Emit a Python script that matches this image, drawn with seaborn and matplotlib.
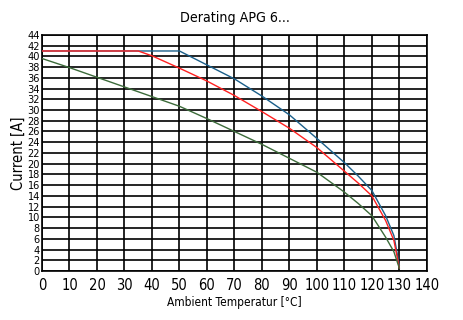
import matplotlib
matplotlib.use("Agg")
import matplotlib.pyplot as plt
import seaborn as sns
import pandas as pd

# Data
blue_x = [0, 50, 60, 70, 80, 90, 100, 110, 115, 120, 125, 128, 130]
blue_y = [41, 41, 38.4, 35.8, 32.6, 29.1, 24.7, 20.2, 17.7, 15.0, 10.3, 6.6, 1.0]
red_x = [0, 35, 40, 50, 60, 70, 80, 90, 100, 110, 115, 120, 125, 128, 130]
red_y = [41, 41, 40.1, 37.8, 35.4, 32.7, 29.7, 26.6, 23.0, 18.6, 16.4, 14.0, 9.4, 5.7, 0.5]
green_x = [0, 10, 20, 30, 40, 50, 60, 70, 80, 90, 100, 110, 115, 120, 125, 128, 130]
green_y = [39.6, 37.9, 36.1, 34.3, 32.5, 30.7, 28.4, 26.0, 23.6, 21.0, 18.4, 14.7, 12.6, 10.3, 6.3, 3.6, 0.5]

x_ticks = list(range(0, 141, 10))
y_ticks = list(range(0, 45, 2))

sns.set_style("white")
plt.rcParams['font.family'] = ['DejaVu Sans']
plt.rcParams['font.stretch'] = 'condensed'
plt.rcParams['text.color'] = 'black'
plt.rcParams['xtick.color'] = 'black'
plt.rcParams['ytick.color'] = 'black'
plt.rcParams['axes.labelcolor'] = 'black'

fig = plt.figure(figsize=(4.63, 3.2), dpi=100)
ax = fig.add_axes([0.0907, 0.153, 0.8313, 0.738])

series = [(blue_x, blue_y, "#1a5f8a"), (red_x, red_y, "#ff2020"), (green_x, green_y, "#3c6b3a")]
for xs, ys, c in series:
    df = pd.DataFrame({"x": xs, "y": ys})
    sns.lineplot(data=df, x="x", y="y", ax=ax, color=c, linewidth=1.0, sort=False, zorder=3)

ax.set_xlim(0, 140)
ax.set_ylim(0, 44)
ax.set_xticks(x_ticks)
ax.set_yticks(y_ticks)
ax.set_xticklabels([str(v) for v in x_ticks], fontsize=10.5, stretch='condensed')
ax.set_yticklabels([str(v) for v in y_ticks], fontsize=7.8, stretch='condensed')
ax.tick_params(axis='x', length=0, pad=5)
ax.tick_params(axis='y', length=0, pad=1.5)
ax.grid(True, color="black", linewidth=1.2)
for s in ax.spines.values():
    s.set_color("black")
    s.set_linewidth(1.2)
ax.set_xlabel("Ambient Temperatur [°C]", fontsize=8.6, labelpad=2, stretch='condensed')
ax.set_ylabel("Current [A]", fontsize=10.5, labelpad=1, stretch='condensed')
ax.set_title("Derating APG 6...", fontsize=10.2, pad=9, stretch='condensed')

fig.savefig("out.png", dpi=100)
